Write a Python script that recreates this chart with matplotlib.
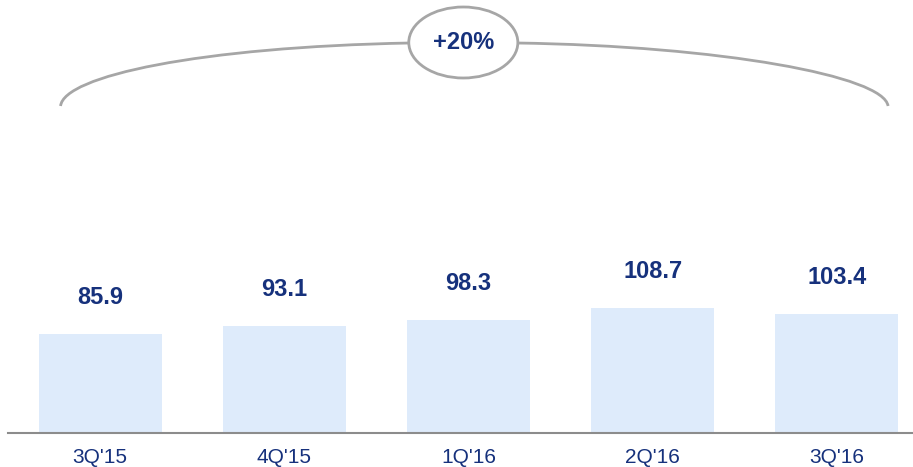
import matplotlib.pyplot as plt
from matplotlib.path import Path
from matplotlib.patches import PathPatch, Ellipse

plt.rcParams['font.family'] = ['Liberation Sans', 'DejaVu Sans']

quarters = ["3Q'15", "4Q'15", "1Q'16", "2Q'16", "3Q'16"]
values = [85.9, 93.1, 98.3, 108.7, 103.4]
growth_label = '+20%'

navy = '#16317c'
bar_color = '#deebfb'
grey = '#a6a6a6'

W, H = 913, 467
fig = plt.figure(figsize=(W / 100, H / 100), dpi=100)

# baseline sits at y=432.5 px, bars are ~1.147 px per unit
base_px = 432.5
px_per_unit = 1.147
ax = fig.add_axes([8 / W, (H - base_px) / H, 905 / W, base_px / H])
ax.set_xlim(-0.5, 4.413)
ax.set_ylim(0, base_px / px_per_unit)

x = range(len(quarters))
ax.bar(x, values, width=0.668, color=bar_color, zorder=1)

for xi, v in zip(x, values):
    ax.text(xi, v + 32, f'{v:.1f}', ha='center', va='center',
            fontsize=17, fontweight='bold', color=navy)

for s in ['top', 'right', 'left']:
    ax.spines[s].set_visible(False)
ax.spines['bottom'].set_color('#8c8c8c')
ax.spines['bottom'].set_linewidth(1.5)
ax.set_yticks([])
ax.set_xticks(list(x))
ax.set_xticklabels(quarters, fontsize=15, color=navy)
ax.tick_params(axis='x', length=0, pad=11)


# helper: pixel position (from top-left) -> data coords for the bracket
def pt(px, py):
    return ((px - 100.5) / 184.1, (base_px - py) / px_per_unit)


codes = [Path.MOVETO, Path.CURVE4, Path.CURVE4, Path.CURVE4]
left = Path([pt(61, 106), pt(64, 76), pt(200, 47), pt(410, 43)], codes)
right = Path([pt(517, 43), pt(720, 46), pt(884, 76), pt(888, 106)], codes)
for p in (left, right):
    ax.add_patch(PathPatch(p, fill=False, edgecolor=grey, lw=2, clip_on=False))

cx, cy = pt(463.5, 42.5)
ax.add_patch(Ellipse((cx, cy), 109 / 184.1, 71 / px_per_unit, facecolor='white',
                     edgecolor=grey, lw=2, clip_on=False, zorder=3))
ax.text(cx, cy, growth_label, ha='center', va='center', fontsize=17,
        fontweight='bold', color=navy, zorder=4)

fig.savefig('out.png', dpi=100)
